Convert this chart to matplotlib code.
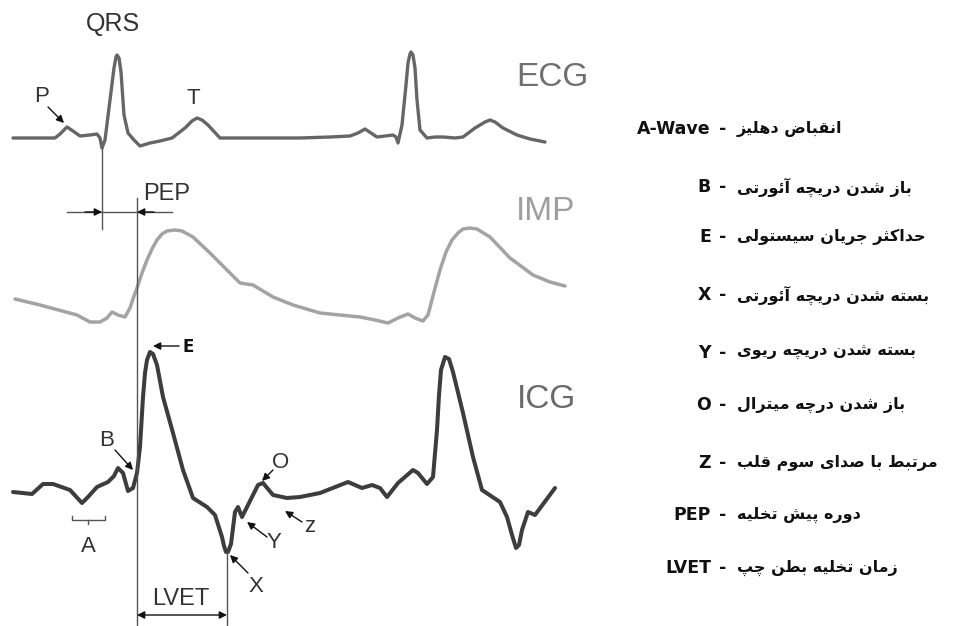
import numpy as np
import matplotlib
matplotlib.use('Agg')
import matplotlib.pyplot as plt

# waveform samples (pixel coords, y grows downwards)
ecg_x = [13, 55, 60, 67, 73, 80, 90, 97, 100, 102, 105, 110, 114, 116, 117, 119, 121, 124, 128, 134, 140,
         150, 160, 172, 185, 192, 197, 202, 208, 220, 260, 300, 330, 350, 358, 365, 371, 377, 385, 393,
         396, 398, 402, 406, 408, 410, 411, 413, 415, 417, 420, 427, 435, 443, 455, 463, 475, 485, 490,
         495, 503, 517, 530, 545]
ecg_y = [138, 138, 134, 127, 131, 136, 135, 134, 138, 148, 140, 100, 68, 57, 55, 58, 72, 115, 133, 140, 146,
         143, 141, 138, 128, 121, 118, 120, 125, 138, 138, 138, 137, 136, 133, 129, 133, 137, 136, 135,
         137, 143, 125, 85, 63, 54, 52, 55, 68, 100, 130, 138, 137, 137, 138, 137, 128, 122, 120,
         122, 128, 135, 139, 142]

imp_x = [15, 40, 77, 90, 100, 107, 112, 118, 125, 130, 134, 137, 142, 147, 152, 157, 162, 167, 175, 182,
         193, 210, 227, 240, 253, 273, 293, 320, 340, 360, 375, 388, 398, 408, 415, 423, 428, 434, 440,
         446, 452, 458, 463, 470, 477, 490, 510, 533, 550, 565]
imp_y = [299, 305, 315, 322, 322, 318, 312, 315, 317, 308, 296, 288, 273, 260, 249, 240, 234, 231, 230, 231,
         237, 253, 270, 283, 285, 297, 305, 313, 315, 317, 320, 323, 318, 314, 318, 321, 315, 292, 270,
         252, 240, 233, 229, 228, 229, 237, 258, 275, 282, 286]

icg_x = [13, 32, 43, 53, 70, 82, 88, 97, 108, 114, 118, 123, 128, 133, 137, 140, 143, 145, 147, 150,
         153, 157, 163, 173, 183, 193, 207, 215, 222, 224, 226, 228, 231, 235, 238, 242, 248, 258, 263,
         273, 287, 300, 320, 348, 362, 372, 380, 387, 398, 413, 418, 427, 433, 437, 439, 441, 445, 449,
         453, 463, 473, 482, 500, 507, 512, 516, 519, 522, 528, 535, 555]
icg_y = [492, 494, 484, 484, 490, 503, 497, 487, 482, 476, 468, 473, 491, 488, 473, 447, 397, 373, 360, 352,
         354, 365, 397, 433, 470, 498, 507, 515, 537, 546, 552, 552, 544, 512, 507, 517, 505, 485, 483,
         495, 498, 497, 493, 482, 488, 485, 488, 497, 483, 470, 473, 484, 477, 430, 395, 370, 357, 359,
         372, 413, 457, 490, 502, 517, 535, 548, 545, 530, 512, 515, 488]

# legend entries
legend_keys = ['A-Wave', 'B', 'E', 'X', 'Y', 'O', 'Z', 'PEP', 'LVET']
legend_fa = ['انقباض دهلیز',
             'باز شدن دریچه آئورتی',
             'حداکثر جریان سیستولی',
             'بسته شدن دریچه آئورتی',
             'بسته شدن دریچه ریوی',
             'باز شدن درچه میترال',
             'مرتبط با صدای سوم قلب',
             'دوره پیش تخلیه',
             'زمان تخلیه بطن چپ']
legend_rows = [129, 187, 237, 295, 353, 405, 463, 515, 568]


# minimal arabic/persian shaping: contextual forms + visual (reversed) order
FORMS = {
    'ا': (0xFE8D, 0xFE8E, None, None), 'آ': (0xFE81, 0xFE82, None, None),
    'ئ': (0xFE89, 0xFE8A, 0xFE8B, 0xFE8C), 'ب': (0xFE8F, 0xFE90, 0xFE91, 0xFE92),
    'ت': (0xFE95, 0xFE96, 0xFE97, 0xFE98), 'ث': (0xFE99, 0xFE9A, 0xFE9B, 0xFE9C),
    'ج': (0xFE9D, 0xFE9E, 0xFE9F, 0xFEA0), 'ح': (0xFEA1, 0xFEA2, 0xFEA3, 0xFEA4),
    'خ': (0xFEA5, 0xFEA6, 0xFEA7, 0xFEA8), 'د': (0xFEA9, 0xFEAA, None, None),
    'ذ': (0xFEAB, 0xFEAC, None, None), 'ر': (0xFEAD, 0xFEAE, None, None),
    'ز': (0xFEAF, 0xFEB0, None, None), 'س': (0xFEB1, 0xFEB2, 0xFEB3, 0xFEB4),
    'ش': (0xFEB5, 0xFEB6, 0xFEB7, 0xFEB8), 'ص': (0xFEB9, 0xFEBA, 0xFEBB, 0xFEBC),
    'ض': (0xFEBD, 0xFEBE, 0xFEBF, 0xFEC0), 'ط': (0xFEC1, 0xFEC2, 0xFEC3, 0xFEC4),
    'ظ': (0xFEC5, 0xFEC6, 0xFEC7, 0xFEC8), 'ع': (0xFEC9, 0xFECA, 0xFECB, 0xFECC),
    'غ': (0xFECD, 0xFECE, 0xFECF, 0xFED0), 'ف': (0xFED1, 0xFED2, 0xFED3, 0xFED4),
    'ق': (0xFED5, 0xFED6, 0xFED7, 0xFED8), 'ک': (0xFB8E, 0xFB8F, 0xFB90, 0xFB91),
    'ل': (0xFEDD, 0xFEDE, 0xFEDF, 0xFEE0), 'م': (0xFEE1, 0xFEE2, 0xFEE3, 0xFEE4),
    'ن': (0xFEE5, 0xFEE6, 0xFEE7, 0xFEE8), 'ه': (0xFEE9, 0xFEEA, 0xFEEB, 0xFEEC),
    'و': (0xFEED, 0xFEEE, None, None), 'ی': (0xFBFC, 0xFBFD, 0xFBFE, 0xFBFF),
    'پ': (0xFB56, 0xFB57, 0xFB58, 0xFB59), 'چ': (0xFB7A, 0xFB7B, 0xFB7C, 0xFB7D),
}


def shape(s):
    out = []
    for i, c in enumerate(s):
        if c not in FORMS:
            out.append(c)
            continue
        prev = s[i - 1] if i > 0 else None
        nxt = s[i + 1] if i + 1 < len(s) else None
        jp = prev in FORMS and FORMS[prev][2] is not None
        jn = nxt in FORMS and FORMS[c][2] is not None
        iso, fin, ini, med = FORMS[c]
        if jp and jn:
            out.append(chr(med))
        elif jp:
            out.append(chr(fin))
        elif jn:
            out.append(chr(ini))
        else:
            out.append(chr(iso))
    return ''.join(reversed(out))


fig = plt.figure(figsize=(9.57, 6.26), dpi=100)
ax = fig.add_axes([0, 0, 1, 1])
ax.set_xlim(0, 957)
ax.set_ylim(626, 0)
ax.axis('off')

sans = ['Liberation Sans', 'DejaVu Sans']
dark = '#333333'

# waveforms
ax.plot(ecg_x, ecg_y, color='#666666', lw=2.4, solid_joinstyle='round', solid_capstyle='round')
ax.plot(imp_x, imp_y, color='#a3a3a3', lw=2.5, solid_joinstyle='round', solid_capstyle='round')
ax.plot(icg_x, icg_y, color='#3d3d3d', lw=2.9, solid_joinstyle='round', solid_capstyle='round')

ax.text(552, 77, 'ECG', family=sans, fontsize=24, color='#707070', ha='center', va='center')
ax.text(546, 212, 'IMP', family=sans, fontsize=24, color='#9e9e9e', ha='center', va='center')
ax.text(546, 400, 'ICG', family=sans, fontsize=24, color='#6a6a6a', ha='center', va='center')

# timing lines
lc = '#555555'
ax.plot([102, 102], [148, 229], color=lc, lw=1)
ax.plot([137, 137], [198, 626], color=lc, lw=1)
ax.plot([227, 227], [552, 626], color=lc, lw=1)
ax.plot([67, 172], [212, 212], color=lc, lw=1)

ahead = dict(arrowstyle='-|>', color='#111111', lw=1, mutation_scale=11, shrinkA=0, shrinkB=0)
ax.annotate('', xy=(102, 212), xytext=(85, 212), arrowprops=ahead)
ax.annotate('', xy=(137, 212), xytext=(154, 212), arrowprops=ahead)
ax.annotate('', xy=(137, 615), xytext=(227, 615),
            arrowprops=dict(arrowstyle='<|-|>', color='#111111', lw=1, mutation_scale=11, shrinkA=0, shrinkB=0))

ax.text(113, 24, 'QRS', family=sans, fontsize=18, color=dark, ha='center', va='center')
ax.text(167, 194, 'PEP', family=sans, fontsize=17, color=dark, ha='center', va='center')
ax.text(181, 599, 'LVET', family=sans, fontsize=17, color=dark, ha='center', va='center')
ax.text(193, 98, 'T', family=sans, fontsize=16, color=dark, ha='center', va='center')

# labels with pointer arrows: text, text pos, arrow tail, arrow tip
pointers = [
    ('P', (42, 97), (48, 107), (64, 123)),
    ('B', (107, 440), (115, 450), (133, 470)),
    ('O', (281, 462), (273, 470), (262, 481)),
    ('Y', (274, 543), (267, 537), (247, 522)),
    ('z', (310, 527), (302, 522), (285, 511)),
    ('X', (256, 587), (248, 573), (230, 555)),
]
for lab, tp, tail, tip in pointers:
    ax.text(tp[0], tp[1], lab, family=sans, fontsize=16, color=dark, ha='center', va='center')
    ax.annotate('', xy=tip, xytext=tail, arrowprops=ahead)

ax.annotate('', xy=(153, 346), xytext=(179, 346), arrowprops=ahead)
ax.text(182, 347, 'E', family='DejaVu Sans', fontweight='bold', fontsize=12, color='#111111',
        ha='left', va='center')

# A bracket
ax.plot([72, 72, 105, 105], [516, 520, 520, 516], color=lc, lw=1)
ax.plot([88, 88], [520, 524], color=lc, lw=1)
ax.text(88, 546, 'A', family=sans, fontsize=16, color=dark, ha='center', va='center')

# legend on the right
for key, fa, y in zip(legend_keys, legend_fa, legend_rows):
    ax.text(711, y, key, family='DejaVu Sans', fontweight='bold', fontsize=12.5, color='#111111',
            ha='right', va='center')
    ax.text(723, y, '-', family='DejaVu Sans', fontweight='bold', fontsize=12.5, color='#111111',
            ha='center', va='center')
    ax.text(737, y, shape(fa), family='DejaVu Sans', fontweight='bold', fontsize=11.5, color='#111111',
            ha='left', va='center')

fig.savefig('out.png', dpi=100)
